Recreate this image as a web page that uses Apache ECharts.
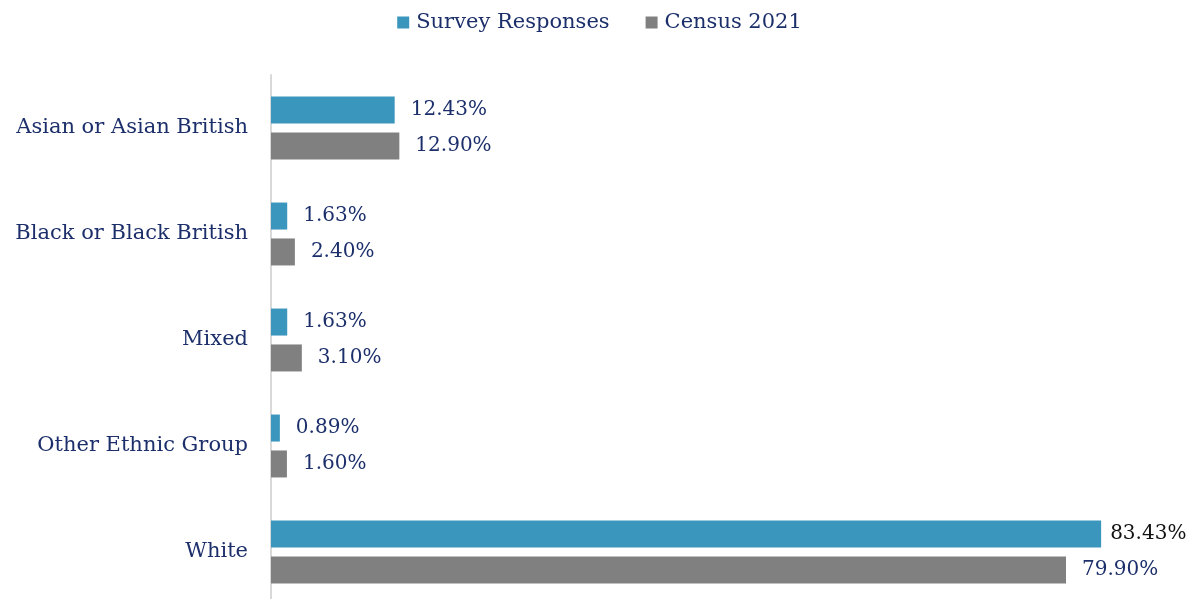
<!DOCTYPE html>
<html>
<head>
<meta charset="utf-8">
<script src="https://cdn.jsdelivr.net/npm/echarts@6/dist/echarts.min.js"></script>
<style>
  html, body { margin: 0; padding: 0; background: #ffffff; }
  #chart { width: 1199px; height: 599px; }
</style>
</head>
<body>
<div id="chart"></div>
<script>
// Ethnic group breakdown: survey responses vs Census 2021 (percent)
const categories = ['Asian or Asian British', 'Black or Black British', 'Mixed', 'Other Ethnic Group', 'White'];
const surveyResponses = [12.43, 1.63, 1.63, 0.89, 83.43];
const census2021 = [12.90, 2.40, 3.10, 1.60, 79.90];
const seriesNames = ['Survey Responses', 'Census 2021'];

const navy = '#1c2f6b';
const font = 'DejaVu Serif';

const chart = echarts.init(document.getElementById('chart'));

function valueLabel() {
  return {
    show: true,
    position: 'right',
    distance: 16,
    fontFamily: font,
    fontSize: 20,
    color: navy,
    formatter: p => p.value.toFixed(2) + '%'
  };
}

chart.setOption({
  animation: false,
  legend: {
    top: 7,
    left: 'center',
    itemWidth: 12,
    itemHeight: 12,
    itemGap: 36,
    icon: 'rect',
    textStyle: { fontFamily: font, fontSize: 21, color: navy, padding: [0, 0, 0, 2] }
  },
  grid: { left: 271, top: 75, width: 895.5, height: 530, outerBoundsMode: 'none', containLabel: false },
  xAxis: {
    type: 'value',
    min: 0,
    max: 90,
    show: false
  },
  yAxis: {
    type: 'category',
    data: categories,
    inverse: true,
    axisLine: { show: true, lineStyle: { color: '#d9d9d9', width: 2 } },
    axisTick: { show: false },
    axisLabel: { fontFamily: font, fontSize: 21, color: navy, margin: 23 }
  },
  series: [
    {
      name: seriesNames[0],
      type: 'bar',
      data: surveyResponses.map((v, i) => (
        i === surveyResponses.length - 1
          ? { value: v, label: { color: '#111111', distance: 9 } }
          : v
      )),
      itemStyle: { color: '#3a96bc' },
      barWidth: 27,
      barGap: '33%',
      label: valueLabel()
    },
    {
      name: seriesNames[1],
      type: 'bar',
      data: census2021,
      itemStyle: { color: '#808080' },
      barWidth: 27,
      label: valueLabel()
    }
  ]
});
</script>
</body>
</html>
